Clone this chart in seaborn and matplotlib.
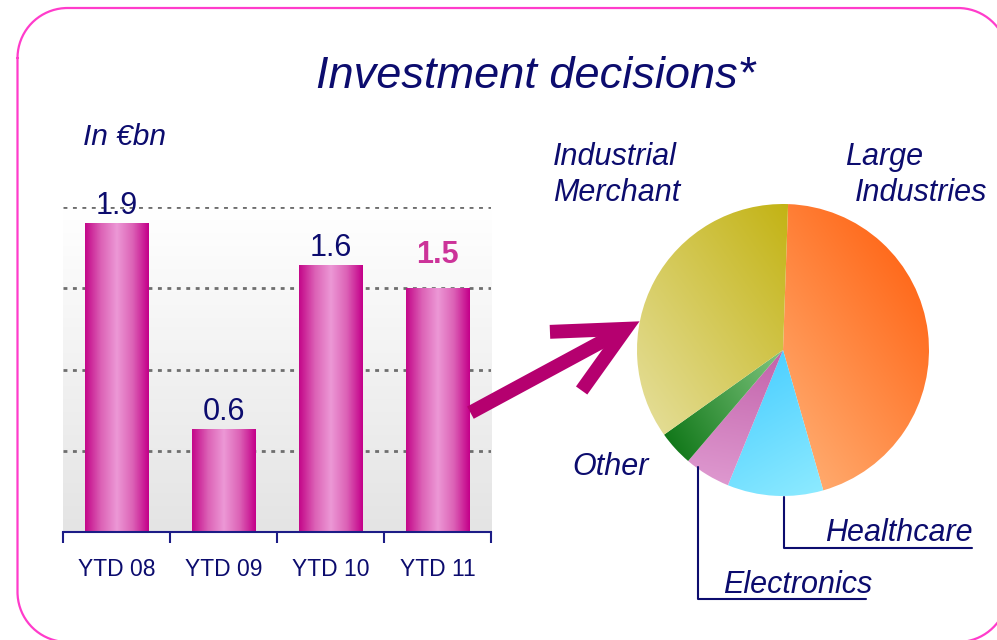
import numpy as np
import matplotlib
matplotlib.use("Agg")
import matplotlib.pyplot as plt
from matplotlib.colors import LinearSegmentedColormap, to_rgb
from matplotlib.patches import FancyArrowPatch
from matplotlib.lines import Line2D
import seaborn as sns

# ---- data ----
periods = ['YTD 08', 'YTD 09', 'YTD 10', 'YTD 11']
invest_bn = [1.9, 0.63, 1.64, 1.5]
highlight = 'YTD 11'

segments = ['Large Industries', 'Healthcare', 'Electronics', 'Other', 'Industrial Merchant']
shares = [45.0, 10.6, 5.1, 3.9, 35.4]

# gradient colours per segment: (start colour, end colour, direction in degrees)
seg_fill = {
    'Large Industries': ('#ffa96c', '#ff6a1c', 35),
    'Healthcare': ('#4ed0ff', '#8ceaff', -60),
    'Electronics': ('#c262aa', '#de98cf', -100),
    'Other': ('#80c680', '#12781a', -150),
    'Industrial Merchant': ('#e3dc92', '#c3b314', 35),
}

NAVY = '#0c0c6e'
AXIS_BLUE = '#1c1c86'
HIGHLIGHT = '#cc3399'
FRAME = '#ff3ccb'
ARROW = '#b5006f'

sns.set_style('white')
plt.rcParams['font.family'] = ['Liberation Sans', 'DejaVu Sans']

W, H = 997, 640
fig = plt.figure(figsize=(W / 100, H / 100), dpi=100)


def px(x, y):
    # pixel position (from top-left) -> figure fraction
    return x / W, 1 - y / H


def gradient_fill(ax, patch, c0, c1, angle, extent, n=240):
    d = np.array([np.cos(np.radians(angle)), np.sin(np.radians(angle))])
    proj = patch.get_path().vertices @ d
    lo, hi = proj.min(), proj.max()
    x0, x1, y0, y1 = extent
    X, Y = np.meshgrid(np.linspace(x0, x1, n), np.linspace(y0, y1, n))
    t = np.clip((X * d[0] + Y * d[1] - lo) / (hi - lo), 0, 1)
    a, b = np.array(to_rgb(c0)), np.array(to_rgb(c1))
    img = a + (b - a) * t[..., None]
    im = ax.imshow(img, extent=extent, origin='lower', aspect='auto',
                   interpolation='bilinear', zorder=patch.get_zorder())
    im.set_clip_path(patch)
    patch.set_facecolor('none')


# ---- bar chart ----
ax = fig.add_axes([63 / W, 1 - 532 / H, (491 - 63) / W, (532 - 207) / H])
sns.barplot(x=periods, y=invest_bn, ax=ax, width=0.59, color='#d040a0', saturation=1)

# plot-area background: white to light grey
bg = LinearSegmentedColormap.from_list('bg', ['#e4e4e4', '#ffffff'])
ax.imshow(np.linspace(0, 1, 100).reshape(-1, 1), cmap=bg, origin='lower',
          extent=(-0.5, 3.5, 0, 2.0), aspect='auto', zorder=0)

# cylinder-like shading on bars
bar_cmap = LinearSegmentedColormap.from_list(
    'bar', ['#c4088a', '#dc62b6', '#ec98d6', '#dc62b6', '#c4008a'])
for p in ax.patches:
    x, w, h = p.get_x(), p.get_width(), p.get_height()
    ax.imshow(np.linspace(0, 1, 100).reshape(1, -1), cmap=bar_cmap,
              extent=(x, x + w, 0, h), aspect='auto', zorder=2)
    p.set_facecolor('none')
    p.set_edgecolor('none')

for p, lab, v in zip(ax.patches, periods, invest_bn):
    xc = p.get_x() + p.get_width() / 2
    if lab == highlight:
        ax.annotate(f'{v:.1f}', (xc, v), xytext=(0, 18), textcoords='offset points',
                    ha='center', va='baseline', fontsize=22, fontweight='bold',
                    color=HIGHLIGHT)
    else:
        ax.annotate(f'{v:.1f}', (xc, v), xytext=(0, 7), textcoords='offset points',
                    ha='center', va='baseline', fontsize=22, color=NAVY)

ax.set_xlim(-0.5, 3.5)
ax.set_ylim(0, 2.0)
ax.set_yticks([0.5, 1.0, 1.5, 2.0])
ax.set_yticklabels([])
ax.set_axisbelow(True)
ax.yaxis.grid(True, color='#6e6e6e', linestyle=(0, (1.4, 2.0)), linewidth=2.0)
ax.xaxis.grid(False)
ax.set_xticks([-0.5, 0.5, 1.5, 2.5, 3.5], minor=True)
ax.tick_params(axis='x', which='major', bottom=True, length=0, pad=19,
               labelsize=16.5, labelcolor=NAVY)
ax.tick_params(axis='x', which='minor', bottom=True, length=8, width=1.5,
               color=AXIS_BLUE, direction='out')
ax.tick_params(axis='y', length=0)
for s in ['left', 'right', 'top']:
    ax.spines[s].set_visible(False)
ax.spines['bottom'].set_color(AXIS_BLUE)
ax.spines['bottom'].set_linewidth(1.5)
ax.set_xlabel('')
ax.set_ylabel('')
ax.patch.set_alpha(0)

# ---- pie ----
R = 146
ax2 = fig.add_axes([(783 - R) / W, (H - 350 - R) / H, 2 * R / W, 2 * R / H])
wedges, _ = ax2.pie(shares, startangle=88, counterclock=False, radius=1,
                    wedgeprops=dict(edgecolor='white', linewidth=0.8))
for wdg, seg in zip(wedges, segments):
    c0, c1, ang = seg_fill[seg]
    gradient_fill(ax2, wdg, c0, c1, ang, (-1.02, 1.02, -1.02, 1.02))
ax2.set_xlim(-1.0, 1.0)
ax2.set_ylim(-1.0, 1.0)
ax2.set_aspect('equal')
ax2.axis('off')

# ---- texts ----
fig.text(*px(536, 76), 'Investment decisions*', ha='center', va='center',
         fontsize=32.5, style='italic', color=NAVY)
fig.text(*px(83, 137), 'In €bn', ha='left', va='center', fontsize=21.5,
         style='italic', color=NAVY)
fig.text(*px(553, 175), 'Industrial\nMerchant', ha='left', va='center',
         fontsize=22, style='italic', color=NAVY, linespacing=1.3)
fig.text(*px(845, 157), 'Large', ha='left', va='center', fontsize=22,
         style='italic', color=NAVY)
fig.text(*px(855, 193), 'Industries', ha='left', va='center', fontsize=22,
         style='italic', color=NAVY)
fig.text(*px(572, 467), 'Other', ha='left', va='center', fontsize=22,
         style='italic', color=NAVY)
fig.text(*px(825, 533), 'Healthcare', ha='left', va='center', fontsize=22,
         style='italic', color=NAVY)
fig.text(*px(723, 585), 'Electronics', ha='left', va='center', fontsize=22,
         style='italic', color=NAVY)

# leader lines
for pts in ([(784, 497), (784, 548), (972, 548)],
            [(698, 467), (698, 599), (866, 599)]):
    xs, ys = zip(*[px(a, b) for a, b in pts])
    fig.add_artist(Line2D(xs, ys, color=NAVY, lw=1.5, transform=fig.transFigure))

# brush arrow from bars to pie
fig.add_artist(FancyArrowPatch(px(468, 414), px(642, 320), transform=fig.transFigure,
                               arrowstyle='->,head_length=4.9,head_width=2.4',
                               mutation_scale=10, lw=10, color=ARROW,
                               capstyle='butt', joinstyle='miter'))

# rounded slide frame (runs off the right and bottom edges)
fx0, fy0, fx1, fy1, fr = 17.5, 8, 1008, 642, 50
arcs = [((fx0 + fr, fy0 + fr), 180, 270), ((fx1 - fr, fy0 + fr), 270, 360),
        ((fx1 - fr, fy1 - fr), 0, 90), ((fx0 + fr, fy1 - fr), 90, 180)]
fpts = []
for (cx, cy), a0, a1 in arcs:
    th = np.radians(np.linspace(a0, a1, 40))
    fpts += [px(cx + fr * np.cos(t), cy + fr * np.sin(t)) for t in th]
fpts.append(fpts[0])
fxs, fys = zip(*fpts)
fig.add_artist(Line2D(fxs, fys, color=FRAME, lw=1.6, transform=fig.transFigure))

fig.savefig('out.png', dpi=100)
